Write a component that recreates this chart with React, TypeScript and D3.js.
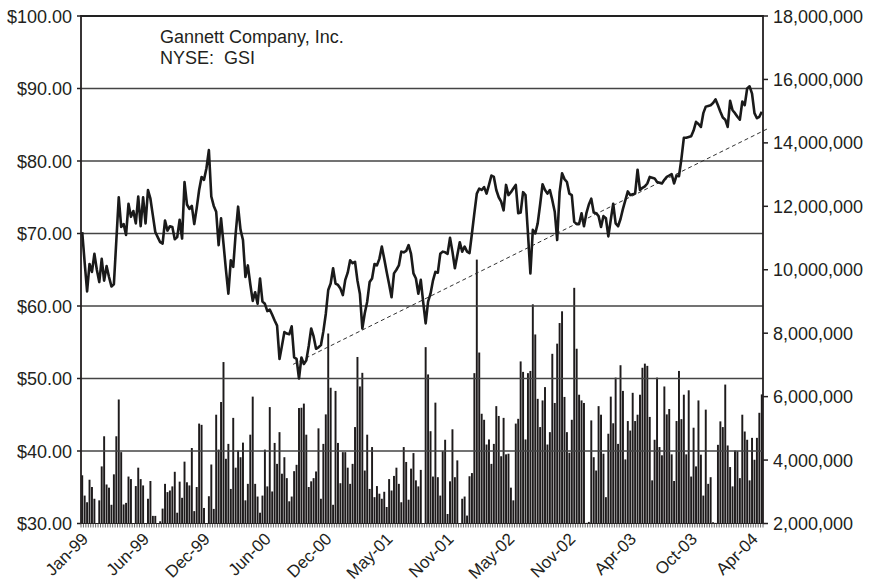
import * as d3 from 'd3'
import React, { useEffect, useRef } from 'react'

// Weekly closing price, Jan-99 .. May-04 (dollars)
const closePrice = [
  70.2, 66.0, 62.0, 65.8, 64.7, 67.2, 65.0, 63.3, 66.5, 63.5,
  65.5, 64.0, 62.7, 63.0, 69.0, 75.0, 70.9, 71.3, 69.8, 74.1,
  72.3, 73.1, 71.4, 75.1, 71.0, 75.0, 71.4, 76.0, 74.8, 72.5,
  70.2, 69.5, 68.8, 68.6, 71.8, 70.4, 71.0, 70.9, 69.2, 69.5,
  71.9, 69.3, 77.1, 74.0, 73.4, 73.8, 71.3, 73.5, 76.0, 77.8,
  77.4, 79.0, 81.5, 75.1, 73.8, 73.0, 68.4, 72.1, 68.6, 65.0,
  61.7, 66.3, 65.4, 70.0, 73.7, 70.5, 69.1, 64.0, 65.6, 63.0,
  60.7, 61.9, 60.3, 63.8, 60.6, 60.3, 59.3, 59.5, 58.8, 58.0,
  57.3, 52.7, 54.5, 56.4, 56.2, 56.1, 57.2, 52.9, 52.7, 50.0,
  52.9, 52.0, 52.5, 54.5, 56.9, 55.8, 54.1, 54.3, 54.6, 56.5,
  58.9, 62.2, 63.1, 65.2, 63.1, 62.9, 62.4, 61.5, 63.6, 64.6,
  66.3, 65.9, 66.1, 63.5, 61.7, 56.9, 59.0, 60.6, 63.3, 63.8,
  65.8, 65.6, 66.5, 68.2, 66.5, 64.7, 63.0, 61.2, 64.5, 65.0,
  65.6, 67.5, 67.4, 67.6, 68.4, 67.2, 64.5, 63.8, 61.7, 63.6,
  60.5, 57.6, 60.6, 61.7, 63.5, 64.7, 64.6, 67.2, 67.5, 67.4,
  67.2, 69.4, 67.5, 65.2, 67.0, 68.8, 67.5, 68.2, 67.5, 67.3,
  70.0, 72.8, 75.5, 76.2, 76.0, 76.4, 75.5, 76.7, 78.0, 77.8,
  76.0, 75.0, 74.4, 73.2, 76.7, 75.3, 75.7, 76.2, 76.7, 72.8,
  72.9, 75.7, 75.3, 70.0, 64.5, 70.5, 70.0, 71.4, 74.0, 76.8,
  76.0, 75.5, 76.0, 74.6, 73.0, 69.1, 75.7, 78.3, 77.5, 77.1,
  75.5, 75.3, 71.6, 71.3, 71.3, 72.8, 71.0, 72.8, 74.0, 74.8,
  72.9, 72.8, 72.4, 70.9, 72.4, 72.1, 69.6, 71.9, 74.1, 71.4,
  71.0, 72.0, 73.4, 74.6, 75.8, 75.3, 75.4, 75.5, 78.8, 76.0,
  76.3, 76.5, 76.9, 77.8, 77.7, 77.6, 77.1, 77.0, 76.9, 77.4,
  77.8, 78.0, 78.2, 76.9, 78.0, 77.9, 80.3, 83.2, 83.2, 83.3,
  83.4, 84.2, 85.4, 85.1, 84.7, 86.6, 87.5, 87.6, 87.7, 88.0,
  88.5, 87.7, 86.8, 86.0, 85.7, 84.7, 88.3, 87.0, 86.6, 86.1,
  85.7, 88.2, 87.7, 90.0, 90.3, 89.3, 86.6, 85.9, 86.1, 86.8,
]

// Weekly volume, millions of shares
const volumeMillions = [
  3.52, 2.88, 2.67, 3.38, 3.15, 2.78, 2.0, 2.73, 3.8, 4.75,
  3.23, 3.13, 2.59, 3.55, 4.75, 5.91, 4.25, 2.6, 2.65, 3.48,
  3.4, 2.0, 3.18, 3.76, 3.4, 3.2, 2.0, 2.78, 3.34, 2.24,
  2.24, 2.0, 2.07, 2.47, 3.25, 2.99, 3.04, 3.17, 3.63, 2.34,
  3.32, 2.81, 3.95, 3.3, 3.2, 4.38, 2.39, 3.15, 5.15, 5.11,
  2.49, 2.0, 2.86, 3.86, 2.46, 5.43, 4.33, 5.83, 7.09, 4.04,
  4.51, 3.09, 5.33, 3.76, 4.3, 4.09, 4.55, 2.73, 3.25, 4.8,
  6.0, 3.25, 2.85, 2.34, 2.88, 4.33, 3.17, 5.67, 3.01, 4.54,
  3.88, 4.88, 3.57, 4.09, 3.43, 2.7, 2.85, 3.65, 3.85, 5.64,
  5.65, 5.78, 4.8, 3.15, 3.33, 3.43, 3.64, 5.0, 2.78, 4.51,
  5.44, 7.99, 6.28, 2.59, 6.18, 4.54, 3.27, 4.25, 4.25, 3.76,
  3.25, 3.88, 5.04, 7.25, 6.32, 6.75, 3.67, 4.8, 3.09, 4.41,
  2.83, 3.18, 2.94, 2.78, 3.0, 2.52, 3.4, 3.04, 3.5, 3.76,
  3.25, 2.67, 4.41, 3.94, 2.75, 3.73, 4.22, 3.36, 3.17, 3.69,
  2.0, 7.56, 6.7, 4.91, 3.48, 5.81, 3.46, 2.88, 4.28, 4.64,
  2.3, 3.33, 4.97, 3.46, 3.99, 2.0, 2.78, 2.85, 2.25, 3.49,
  3.59, 6.74, 10.32, 7.39, 5.46, 5.27, 4.49, 4.65, 3.88, 4.51,
  5.7, 5.39, 4.12, 5.33, 4.18, 4.2, 3.13, 2.73, 5.15, 5.3,
  7.11, 6.78, 4.65, 6.74, 6.81, 8.91, 7.96, 5.93, 5.04, 5.88,
  6.3, 4.49, 4.88, 7.35, 5.8, 7.67, 8.32, 8.69, 5.99, 4.88,
  4.23, 5.27, 9.43, 7.51, 6.06, 5.88, 5.8, 2.02, 2.05, 5.25,
  4.09, 3.67, 5.7, 5.43, 4.2, 2.83, 4.83, 6.0, 5.16, 6.6,
  4.51, 6.99, 6.18, 4.02, 5.23, 4.93, 6.12, 5.23, 5.43, 6.06,
  6.91, 7.04, 6.97, 5.36, 3.36, 4.64, 6.6, 4.41, 4.15, 6.32,
  5.44, 5.61, 4.18, 3.34, 5.23, 6.81, 5.29, 6.06, 4.18, 6.2,
  3.48, 5.02, 3.8, 5.88, 4.17, 2.88, 5.59, 3.25, 3.46, 2.04,
  2.02, 4.48, 5.22, 5.04, 6.38, 4.46, 3.78, 3.17, 4.3, 4.28,
  3.43, 5.43, 4.9, 4.64, 3.36, 4.7, 4.01, 4.7, 5.49, 6.07,
]

// Category labels, one every 25 weeks
const dateLabels = [
  'Jan-99', 'Jun-99', 'Dec-99', 'Jun-00', 'Dec-00', 'May-01',
  'Nov-01', 'May-02', 'Nov-02', 'Apr-03', 'Oct-03', 'Apr-04',
]
const labelEvery = 25

const priceTicks = [30, 40, 50, 60, 70, 80, 90, 100]
const volumeTicks = [2, 4, 6, 8, 10, 12, 14, 16, 18]

// Dashed trend line end points (week index, price)
const trendWeeks = [86.6, 281.1]
const trendPrices = [51.95, 84.4]

const titleLines = ['Gannett Company, Inc.', 'NYSE:  GSI']

const FONT = '"Liberation Sans", Arial, Helvetica, sans-serif'
const INK = '#231f20'

const App = () => {
  const ref = useRef<SVGSVGElement>(null)

  useEffect(() => {
    const w = 872
    const h = 582
    const margin = { top: 16, right: 109, bottom: 58.5, left: 81 }
    const left = margin.left
    const right = w - margin.right
    const bottom = h - margin.bottom

    const svg = d3.select(ref.current)
    svg.selectAll('*').remove()

    const weeks = d3.range(closePrice.length)
    const x = d3.scaleBand<number>().domain(weeks).range([left, right]).padding(0)
    const bw = x.bandwidth()
    const xc = (i: number) => (x(i) as number) + bw / 2
    const xLin = d3.scaleLinear().domain([-0.5, weeks.length - 0.5]).range([left, right])

    const yPrice = d3.scaleLinear().domain([30, 100]).range([bottom, margin.top])
    const yVol = d3.scaleLinear().domain([2, 18]).range([bottom, margin.top])

    svg.append('rect').attr('width', w).attr('height', h).attr('fill', '#fff')

    // Volume bars
    svg.append('g')
      .selectAll('rect')
      .data(volumeMillions)
      .join('rect')
      .attr('x', (_, i) => (x(i) as number) + 0.25)
      .attr('width', bw - 0.5)
      .attr('y', (d) => yVol(Math.max(d, 2)))
      .attr('height', (d) => bottom - yVol(Math.max(d, 2)))
      .attr('fill', '#1e1b1c')

    // Gridlines
    svg.append('g')
      .selectAll('line')
      .data(priceTicks.slice(1))
      .join('line')
      .attr('x1', left)
      .attr('x2', right)
      .attr('y1', (d) => yPrice(d))
      .attr('y2', (d) => yPrice(d))
      .attr('stroke', (d) => (d === 100 ? '#222' : '#444'))
      .attr('stroke-width', (d) => (d === 100 ? 2 : 1.5))

    // Trend line
    svg.append('line')
      .attr('x1', xLin(trendWeeks[0]))
      .attr('y1', yPrice(trendPrices[0]))
      .attr('x2', xLin(trendWeeks[1]))
      .attr('y2', yPrice(trendPrices[1]))
      .attr('stroke', '#333')
      .attr('stroke-width', 1)
      .attr('stroke-dasharray', '4,3')

    // Price line
    const line = d3.line<number>()
      .x((_, i) => xc(i))
      .y((d) => yPrice(d))
    svg.append('path')
      .datum(closePrice)
      .attr('d', line)
      .attr('fill', 'none')
      .attr('stroke', '#1a1a1a')
      .attr('stroke-width', 2.6)
      .attr('stroke-linejoin', 'round')

    // Axes lines
    const axes = svg.append('g').attr('stroke', INK)
    axes.append('line').attr('x1', left).attr('x2', left)
      .attr('y1', margin.top - 1).attr('y2', bottom).attr('stroke-width', 1.8)
    axes.append('line').attr('x1', right).attr('x2', right)
      .attr('y1', margin.top - 1).attr('y2', bottom).attr('stroke-width', 1.8)
    axes.append('line').attr('x1', left).attr('x2', right)
      .attr('y1', bottom).attr('y2', bottom).attr('stroke-width', 1.2)

    // Left ticks + labels
    axes.selectAll('.lt')
      .data(priceTicks)
      .join('line')
      .attr('x1', left - 4).attr('x2', left)
      .attr('y1', (d) => yPrice(d)).attr('y2', (d) => yPrice(d))
      .attr('stroke-width', 1.5)
    svg.append('g')
      .selectAll('text')
      .data(priceTicks)
      .join('text')
      .attr('x', left - 9)
      .attr('y', (d) => yPrice(d) + 6.5)
      .attr('text-anchor', 'end')
      .attr('font-family', FONT)
      .attr('font-size', 18)
      .attr('fill', INK)
      .text((d) => d3.format('$.2f')(d))

    // Right ticks + labels
    axes.selectAll('.rt')
      .data(volumeTicks)
      .join('line')
      .attr('x1', right).attr('x2', right + 5)
      .attr('y1', (d) => yVol(d)).attr('y2', (d) => yVol(d))
      .attr('stroke-width', 1.5)
    svg.append('g')
      .selectAll('text')
      .data(volumeTicks)
      .join('text')
      .attr('x', right + 10)
      .attr('y', (d) => yVol(d) + 6.5)
      .attr('font-family', FONT)
      .attr('font-size', 18)
      .attr('fill', INK)
      .text((d) => d3.format(',')(d * 1e6))

    // Bottom minor ticks, one per week
    svg.append('g')
      .selectAll('line')
      .data(d3.range(weeks.length + 1))
      .join('line')
      .attr('x1', (i) => xLin(i - 0.5))
      .attr('x2', (i) => xLin(i - 0.5))
      .attr('y1', bottom)
      .attr('y2', bottom + 4)
      .attr('stroke', '#444')
      .attr('stroke-width', 0.8)

    // Date labels
    svg.append('g')
      .selectAll('text')
      .data(dateLabels)
      .join('text')
      .attr('transform', (_, k) => `translate(${xc(k * labelEvery) + 7}, 540) rotate(-45)`)
      .attr('text-anchor', 'end')
      .attr('font-family', FONT)
      .attr('font-size', 17)
      .attr('fill', INK)
      .text((d) => d)

    // Title
    svg.append('g')
      .selectAll('text')
      .data(titleLines)
      .join('text')
      .attr('x', 160)
      .attr('y', (_, i) => 42.5 + i * 21.5)
      .attr('font-family', FONT)
      .attr('font-size', 18)
      .attr('fill', INK)
      .style('white-space', 'pre')
      .text((d) => d)
  }, [])

  return (
    <svg
      ref={ref}
      width={872}
      height={582}
      style={{ position: 'absolute', left: 0, top: 0, display: 'block' }}
    />
  )
}

export default App
